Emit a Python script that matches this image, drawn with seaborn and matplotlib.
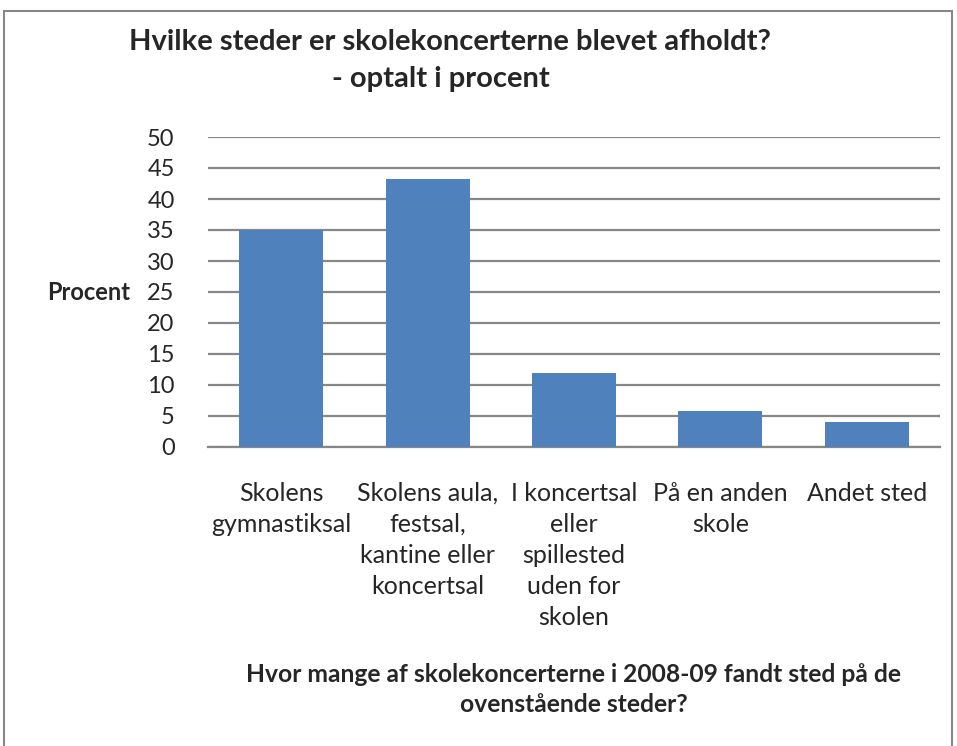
import matplotlib
matplotlib.use('Agg')
import matplotlib.pyplot as plt
import seaborn as sns
import pandas as pd
from matplotlib.patches import Rectangle

steder = ['Skolens\ngymnastiksal',
          'Skolens aula,\nfestsal,\nkantine eller\nkoncertsal',
          'I koncertsal\neller\nspillested\nuden for\nskolen',
          'På en anden\nskole',
          'Andet sted']
procent = [35.0, 43.3, 11.9, 5.75, 4.0]
yticks = [0, 5, 10, 15, 20, 25, 30, 35, 40, 45, 50]

df = pd.DataFrame({'sted': steder, 'procent': procent})

sns.set_style('white')
plt.rcParams['font.family'] = ['Lato', 'DejaVu Sans']

fig = plt.figure(figsize=(9.57, 7.46), dpi=100)
ax = fig.add_axes([208 / 957, 1 - 447 / 746, 732 / 957, 310 / 746])

sns.barplot(data=df, x='sted', y='procent', color='#4f81bd', width=0.575,
            saturation=1, linewidth=0, ax=ax, zorder=3)

ax.set_ylim(0, 50)
ax.set_yticks(yticks)
ax.set_yticklabels([str(t) for t in yticks], fontsize=17)
ax.yaxis.grid(True, color='#878787', linewidth=1.6, zorder=0)
ax.set_axisbelow(True)
ax.tick_params(axis='both', length=0)
ax.tick_params(axis='y', pad=24)
ax.tick_params(axis='x', pad=25)
for lab in ax.get_xticklabels():
    lab.set_fontsize(18)
    lab.set_linespacing(1.42)
    lab.set_verticalalignment('top')
for s in ['left', 'right', 'top']:
    ax.spines[s].set_visible(False)
ax.spines['bottom'].set_color('#878787')
ax.spines['bottom'].set_linewidth(1.6)
ax.set_xlabel('')
ax.set_ylabel('')

fig.text(130 / 957, 1 - 293 / 746, 'Procent', fontsize=17, fontweight='bold',
         ha='right', va='center')

fig.text(450 / 957, 1 - 42 / 746, 'Hvilke steder er skolekoncerterne blevet afholdt?',
         fontsize=21, fontweight='bold', ha='center', va='center')
fig.text(441 / 957, 1 - 79 / 746, '- optalt i procent',
         fontsize=21, fontweight='bold', ha='center', va='center')

fig.text(574 / 957, 1 - 674 / 746, 'Hvor mange af skolekoncerterne i 2008-09 fandt sted på de',
         fontsize=17.7, fontweight='bold', ha='center', va='center')
fig.text(574 / 957, 1 - 705 / 746, 'ovenstående steder?',
         fontsize=17.7, fontweight='bold', ha='center', va='center')

fig.patches.append(Rectangle((4 / 957, -0.01), 948 / 957, 1 - 11 / 746 + 0.01,
                             transform=fig.transFigure, fill=False,
                             edgecolor='#878787', linewidth=1.5))

fig.savefig('out.png', dpi=100)
